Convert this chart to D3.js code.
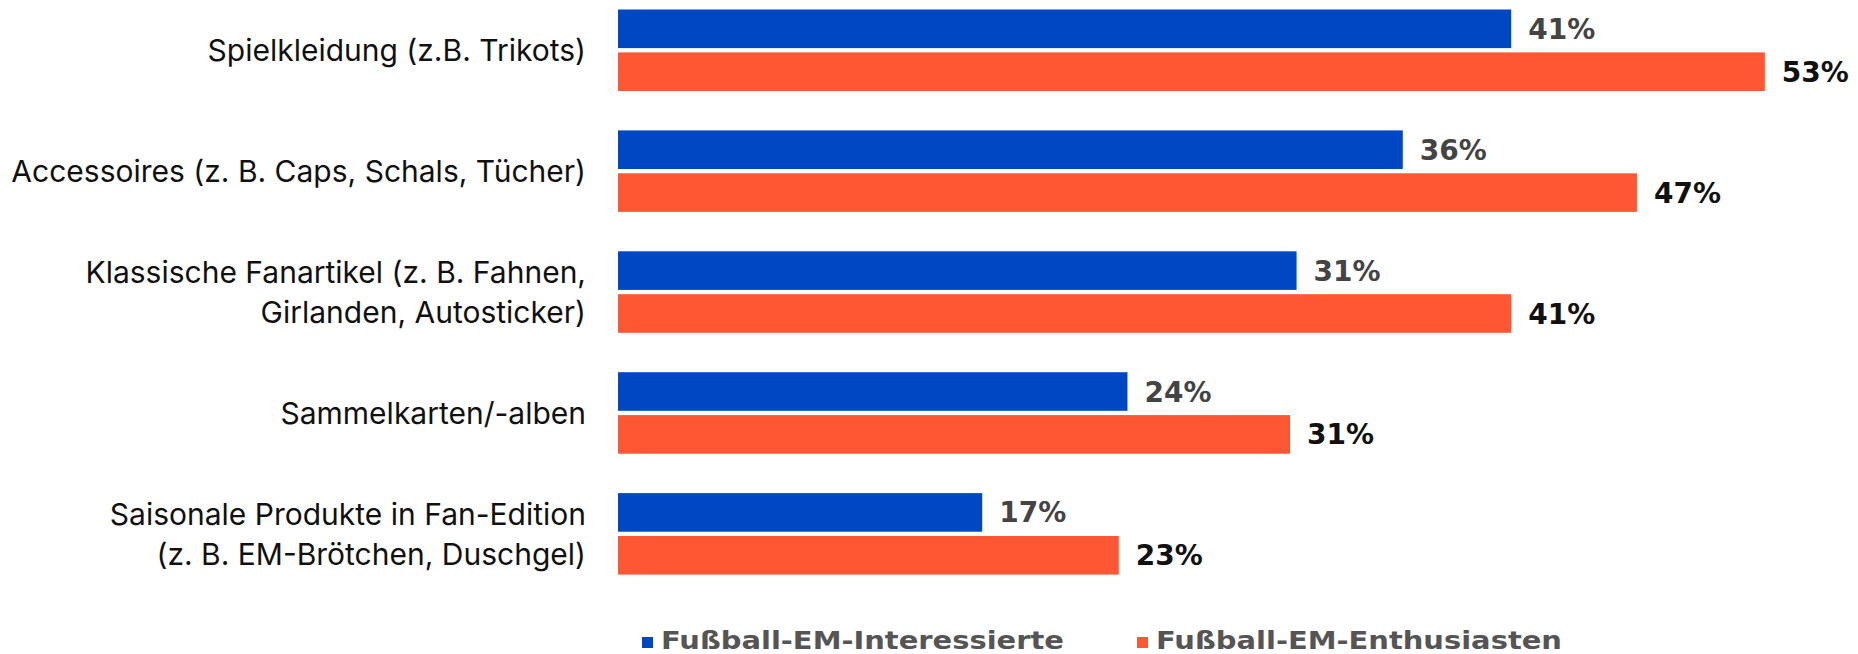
<!DOCTYPE html>
<html>
<head>
<meta charset="utf-8">
<script src="https://cdn.jsdelivr.net/npm/d3@7"></script>
<style>
  body { margin: 0; background: #fff; }
  svg { display: block; }
</style>
</head>
<body>
<div class="canvas"></div>
<script>
// data (bar lengths estimated, labels show them rounded)
var categories = [
  ['Spielkleidung (z.B. Trikots)'],
  ['Accessoires (z. B. Caps, Schals, Tücher)'],
  ['Klassische Fanartikel (z. B. Fahnen,', 'Girlanden, Autosticker)'],
  ['Sammelkarten/-alben'],
  ['Saisonale Produkte in Fan-Edition', '(z. B. EM-Brötchen, Duschgel)']
];
var interessierte = [41.2, 36.2, 31.3, 23.5, 16.8];
var enthusiasten = [52.9, 47.0, 41.2, 31.0, 23.1];
var seriesNames = ['Fußball-EM-Interessierte', 'Fußball-EM-Enthusiasten'];
var seriesColors = ['#0047c4', '#ff5733'];
var labelColors = ['#444444', '#111111'];

var width = 1858, height = 654;

var svg = d3.select('.canvas')
  .append('svg')
  .attr('width', width)
  .attr('height', height);

var x = d3.scaleLinear().domain([0, 53]).range([618, 1767]);

var idx = d3.range(categories.length);
var y = d3.scaleBand()
  .domain(idx)
  .range([9.5, 574.6])
  .paddingInner(0.326)
  .paddingOuter(0);

var ySub = d3.scaleBand()
  .domain([0, 1])
  .range([0, y.bandwidth()])
  .paddingInner(0.1);

var series = [interessierte, enthusiasten];

// bars + value labels
series.forEach(function (vals, s) {
  var g = svg.append('g').attr('class', 'series-' + s);
  g.selectAll('rect')
    .data(vals)
    .enter()
    .append('rect')
    .attr('x', x(0))
    .attr('y', function (d, i) { return y(i) + ySub(s); })
    .attr('width', function (d) { return x(d) - x(0); })
    .attr('height', ySub.bandwidth())
    .style('fill', seriesColors[s]);

  g.selectAll('text')
    .data(vals)
    .enter()
    .append('text')
    .attr('x', function (d) { return x(d) + 17; })
    .attr('y', function (d, i) { return y(i) + ySub(s) + ySub.bandwidth() / 2; })
    .attr('dy', '0.36em')
    .style('font-family', 'DejaVu Sans')
    .style('font-weight', 'bold')
    .style('font-size', '28px')
    .style('fill', labelColors[s])
    .text(function (d) { return Math.round(d) + '%'; });
});

// category labels
var cat = svg.append('g').attr('class', 'categories');
categories.forEach(function (lines, i) {
  var cy = y(i) + y.bandwidth() / 2;
  var t = cat.append('text')
    .attr('text-anchor', 'end')
    .style('font-family', 'Inter')
    .style('font-size', '30px')
    .style('fill', '#111');
  lines.forEach(function (line, j) {
    t.append('tspan')
      .attr('x', 586)
      .attr('y', cy + 11 + (j - (lines.length - 1) / 2) * 40)
      .text(line);
  });
});

// legend
var legendX = [642, 1137];
var legendW = [403, 406];
var legend = svg.append('g').attr('class', 'legend');
seriesNames.forEach(function (name, s) {
  legend.append('rect')
    .attr('x', legendX[s])
    .attr('y', 637)
    .attr('width', 11)
    .attr('height', 11)
    .style('fill', seriesColors[s]);
  legend.append('text')
    .attr('x', legendX[s] + 19)
    .attr('y', 649)
    .attr('textLength', legendW[s])
    .attr('lengthAdjust', 'spacingAndGlyphs')
    .style('font-family', 'DejaVu Sans')
    .style('font-weight', 'bold')
    .style('font-size', '25px')
    .style('fill', '#555')
    .text(name);
});
</script>
</body>
</html>
